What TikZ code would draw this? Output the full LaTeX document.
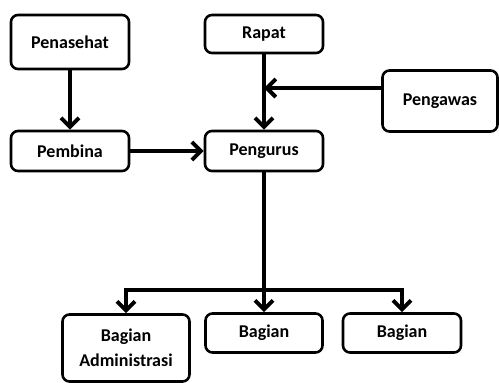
\documentclass[tikz,border=0pt]{standalone}
\usepackage{fontspec}
\setmainfont{Carlito}
\usetikzlibrary{arrows.meta}

\tikzset{
	box/.style={draw, line width=2.6pt, rounded corners=7pt, align=center,
		font=\fontsize{18}{25}\selectfont\bfseries},
	arr/.style={line width=4pt, -{Straight Barb[length=9pt,width=18pt,line width=4pt]}},
	wire/.style={line width=4pt}
}

\begin{document}
\begin{tikzpicture}[x=1pt, y=-1pt]

	% fix the page size
	\useasboundingbox (0,0) rectangle (499,383);

	% Top row
	\node[box, minimum width=118pt, minimum height=54pt] (penasehat) at (70,42) {Penasehat};
	\node[box, minimum width=118pt, minimum height=38pt] (rapat) at (264,34) {Rapat};
	\node[box, minimum width=115pt, minimum height=61pt] (pengawas) at (440,101) {Pengawas};

	% Middle row
	\node[box, minimum width=118pt, minimum height=40pt] (pembina) at (70,151) {Pembina};
	\node[box, minimum width=118pt, minimum height=40pt] (pengurus) at (264,151) {Pengurus};

	% Bottom row
	\node[box, minimum width=127pt, minimum height=67pt] (adm) at (126,348) {Bagian\\Administrasi};
	\node[box, minimum width=117pt, minimum height=39pt] (bagianA) at (264,333) {Bagian};
	\node[box, minimum width=118pt, minimum height=39pt] (bagianB) at (402,333) {Bagian};

	% joins
	\coordinate (join) at (264,88);
	\coordinate (fork) at (264,290);

	% arrows
	\draw[arr] (penasehat) -- (pembina);
	\draw[arr] (pembina) -- (pengurus);
	\draw[arr] (rapat) -- (pengurus);
	\draw[arr] (pengawas.west |- join) -- (join);

	% split to the Bagian boxes
	\draw[wire] (pengurus) -- (fork);
	\draw[arr] (fork) -| (adm.north);
	\draw[arr] (fork) -- (bagianA);
	\draw[arr] (fork) -| (bagianB.north);

\end{tikzpicture}
\end{document}
